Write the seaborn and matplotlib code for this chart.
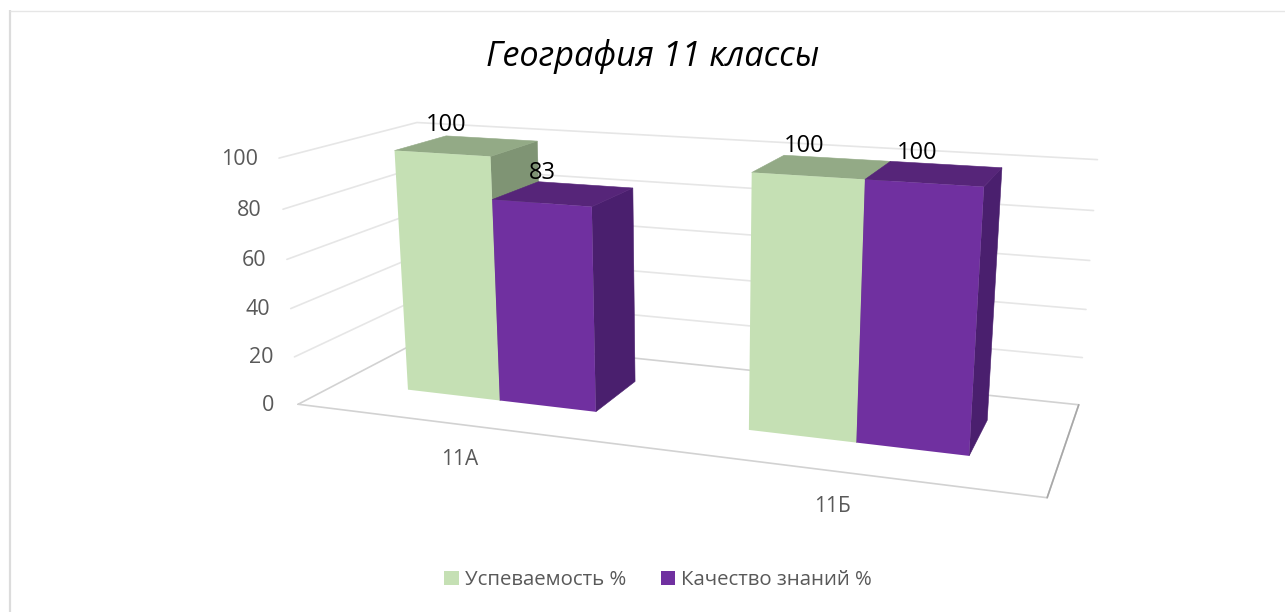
import numpy as np
import pandas as pd
import matplotlib
matplotlib.use("Agg")
import matplotlib.pyplot as plt
from matplotlib.transforms import Transform, IdentityTransform
from matplotlib.patches import Rectangle
import seaborn as sns

# ---- data ----
categories = ["11А", "11Б"]
series_names = ["Успеваемость %", "Качество знаний %"]
uspevaemost = [100, 100]
kachestvo = [83, 100]
y_ticks = [0, 20, 40, 60, 80, 100]
title_text = "География 11 классы"

# ---- style ----
GREEN, PURPLE = "#C5E0B4", "#7030A0"
SHADES = {0: ("#7F9474", "#93AA86"), 1: ("#4A1F6E", "#562579")}
W, H = 1285, 612
Z_FRONT, Z_BACK = 0.3, 0.7
BAR_WIDTH = 0.57

sns.set_theme(style="white")
plt.rcParams["font.family"] = ["Open Sans", "DejaVu Sans"]

# ---- view calibration: the plot box corners (x, value fraction, depth) to pixels ----
box = np.array([[0,0,0],[1,0,0],[1,0,1],[0,0,1],[0,1,0],[1,1,0],[1,1,1],[0,1,1]], float)
pix = np.array([[298,403],[1047,498],[1079,404],[428,338],[279,157],[1068,212],[1097,158],[417,123]], float)
A, b = [], []
for (X, Y, Z), (u, v) in zip(box, pix):
    A.append([X, Y, Z, 1, 0, 0, 0, 0, -u*X, -u*Y, -u*Z]); b.append(u)
    A.append([0, 0, 0, 0, X, Y, Z, 1, -v*X, -v*Y, -v*Z]); b.append(v)
P = np.append(np.linalg.lstsq(np.array(A), np.array(b), rcond=None)[0], 1).reshape(3, 4)


def project(x, y, z):
    pts = np.column_stack([x, y, z, np.ones_like(np.asarray(x, float))])
    q = pts @ P.T
    return q[:, :2] / q[:, 2:]


def cat_to_x(c):
    return (np.asarray(c, float) + 0.5) / len(categories)


class FrontFace(Transform):
    """Category position and value -> pixel, on the front plane of the bars."""
    input_dims = output_dims = 2
    is_separable = False
    has_inverse = False

    def transform_non_affine(self, values):
        values = np.asarray(values, float)
        return project(cat_to_x(values[:, 0]), values[:, 1] / 100, np.full(len(values), Z_FRONT))


df = pd.DataFrame({
    "Класс": categories * 2,
    "Серия": np.repeat(series_names, len(categories)),
    "Значение": uspevaemost + kachestvo,
})

fig = plt.figure(figsize=(W / 100, H / 100), dpi=100, facecolor="white")
ax = fig.add_axes([0, 0, 1, 1])
sns.barplot(data=df, x="Класс", y="Значение", hue="Серия", hue_order=series_names,
            palette=[GREEN, PURPLE], saturation=1, width=BAR_WIDTH, gap=0, ax=ax, linewidth=0)
handles, labels = ax.get_legend_handles_labels()
ax.get_legend().remove()
ax.set_xlim(0, W)
ax.set_ylim(H, 0)
ax.axis("off")

# chart frame: only the top and left edges fall inside the picture
ax.plot([10, 10], [10, H], color="#DCDCDC", lw=1.6, zorder=0, solid_capstyle="butt")
ax.plot([10, W], [10.5, 10.5], color="#E6E6E6", lw=1.0, zorder=0, solid_capstyle="butt")

# walls and floor
for t in y_ticks:
    f = t / 100
    pts = project(np.array([0, 0, 1.]), np.full(3, f), np.array([0, 1, 1.]))
    if t > 0:
        ax.plot(pts[:, 0], pts[:, 1], color="#E6E6E6", lw=1.2, zorder=1)
    ax.text(pts[0, 0] - (21 if t else 24), pts[0, 1] + 1, str(t), ha="right", va="center",
            fontsize=15.5, color="#595959")
fl = project(np.array([0, 1, 1, 0, 0.]), np.zeros(5), np.array([0, 0, 1, 1, 0.]))
ax.plot(fl[:, 0], fl[:, 1], color="#D2D2D2", lw=1.2, zorder=1)
ax.plot(fl[1:3, 0], fl[1:3, 1], color="#A8A8A8", lw=1.2, zorder=1)

# bars: seaborn's faces, extruded in depth
bars = sorted([p for p in ax.patches if isinstance(p, Rectangle) and p.get_width() < 5 and p.get_height() > 0],
              key=lambda p: p.get_x())
face_tr = FrontFace() + ax.transData
label_offsets = [(-45, -13), (-43, -12), (-33, -12), (-28, -11)]
for i, p in enumerate(bars):
    xl, xr = cat_to_x(p.get_x()), cat_to_x(p.get_x() + p.get_width())
    val = p.get_height()
    f = val / 100
    kind = 0 if matplotlib.colors.to_hex(p.get_facecolor()).upper() == GREEN else 1
    side_c, top_c = SHADES[kind]
    z0 = 2 + i * 3
    side = project(np.full(4, xr), np.array([0, f, f, 0]), np.array([Z_FRONT, Z_FRONT, Z_BACK, Z_BACK]))
    top = project(np.array([xl, xr, xr, xl]), np.full(4, f), np.array([Z_FRONT, Z_FRONT, Z_BACK, Z_BACK]))
    ax.fill(side[:, 0], side[:, 1], color=side_c, lw=0.4, zorder=z0)
    ax.fill(top[:, 0], top[:, 1], color=top_c, lw=0.4, zorder=z0 + 1)
    p.set_transform(face_tr)
    p.set_clip_on(False)
    p.set_zorder(z0 + 2)
    c = project(np.array([(xl + xr) / 2]), np.array([f]), np.array([Z_BACK]))[0]
    dx, dy = label_offsets[i]
    ax.text(c[0] + dx, c[1] + dy, f"{val:.0f}", ha="center", va="center", fontsize=17,
            color="black", zorder=40)

# category labels
for i, name in enumerate(categories):
    q = project(cat_to_x([i]), np.array([0.]), np.array([0.]))[0]
    ax.text(q[0] - 3, q[1] + 35, name, ha="center", va="center", fontsize=15, color="#595959")

ax.text(653, 57, title_text, ha="center", va="center", fontsize=24.7, style="italic", color="black")

leg = ax.legend(handles, labels, loc="center", bbox_to_anchor=(658, H - 580),
                bbox_transform=IdentityTransform(),
                ncol=2, frameon=False, fontsize=14.7, handlelength=0.69, handleheight=0.69,
                handletextpad=0.3, columnspacing=1.7, labelcolor="#595959")

fig.savefig("out.png", dpi=100)
